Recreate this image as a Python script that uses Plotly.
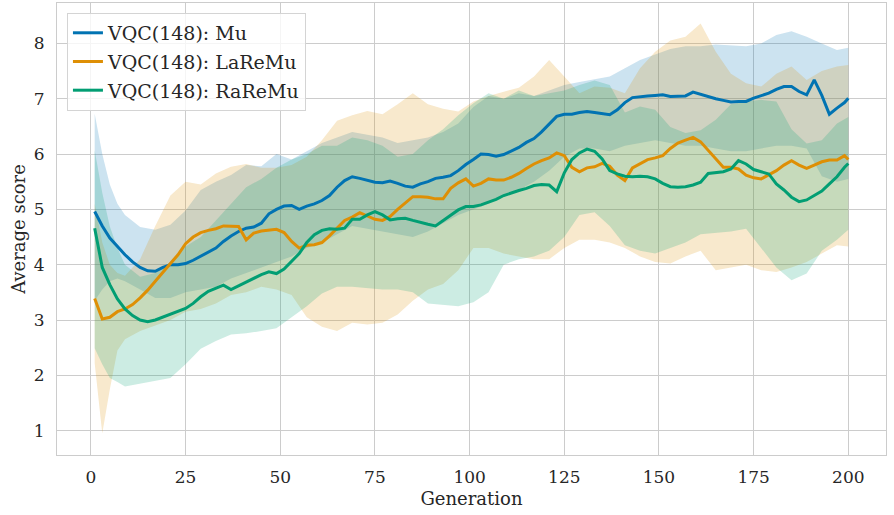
import plotly.graph_objects as go

# Generations at which the mean curves are sampled
gen = [1] + list(range(3, 200, 2)) + [200]

mu_mean = [4.96, 4.70, 4.48, 4.33, 4.18, 4.05, 3.95, 3.89, 3.88, 3.95,
           4.00, 4.00, 4.02, 4.08, 4.15, 4.22, 4.30, 4.42, 4.52, 4.60,
           4.66, 4.68, 4.75, 4.92, 5.00, 5.06, 5.07, 5.00, 5.06, 5.10,
           5.16, 5.25, 5.40, 5.52, 5.59, 5.56, 5.53, 5.49, 5.48, 5.51,
           5.47, 5.42, 5.40, 5.46, 5.50, 5.56, 5.58, 5.61, 5.70, 5.81,
           5.90, 6.00, 5.99, 5.96, 5.99, 6.05, 6.12, 6.21, 6.28, 6.40,
           6.54, 6.68, 6.72, 6.72, 6.75, 6.77, 6.75, 6.73, 6.71, 6.80,
           6.93, 7.02, 7.04, 7.05, 7.06, 7.07, 7.04, 7.04, 7.05, 7.12,
           7.08, 7.03, 7.00, 6.97, 6.94, 6.95, 6.95, 7.01, 7.05, 7.10,
           7.17, 7.22, 7.22, 7.13, 7.07, 7.34, 7.06, 6.72, 6.83, 6.93,
           7.01]

lareme_mean = [3.39, 3.02, 3.05, 3.15, 3.20, 3.28, 3.40, 3.54, 3.70, 3.87,
               4.02, 4.18, 4.38, 4.50, 4.58, 4.62, 4.65, 4.70, 4.70, 4.69,
               4.45, 4.57, 4.61, 4.63, 4.64, 4.58, 4.42, 4.30, 4.35, 4.36,
               4.40, 4.52, 4.66, 4.80, 4.86, 4.94, 4.88, 4.82, 4.80, 4.87,
               5.00, 5.12, 5.23, 5.23, 5.22, 5.19, 5.19, 5.38, 5.48, 5.55,
               5.42, 5.47, 5.55, 5.53, 5.53, 5.58, 5.65, 5.74, 5.82, 5.88,
               5.93, 6.02, 5.97, 5.76, 5.68, 5.75, 5.77, 5.83, 5.78, 5.62,
               5.52, 5.75, 5.82, 5.90, 5.93, 5.97, 6.10, 6.20, 6.25, 6.30,
               6.22, 6.06, 5.90, 5.76, 5.76, 5.73, 5.62, 5.57, 5.55, 5.62,
               5.70, 5.80, 5.88, 5.80, 5.74, 5.80, 5.86, 5.89, 5.89, 5.97,
               5.90]

rareme_mean = [4.66, 3.95, 3.64, 3.38, 3.20, 3.08, 3.00, 2.97, 3.00, 3.05,
               3.10, 3.15, 3.21, 3.30, 3.42, 3.52, 3.58, 3.63, 3.55, 3.62,
               3.68, 3.76, 3.82, 3.87, 3.84, 3.92, 4.06, 4.20, 4.40, 4.54,
               4.62, 4.65, 4.64, 4.66, 4.82, 4.82, 4.90, 4.96, 4.90, 4.81,
               4.83, 4.84, 4.80, 4.76, 4.73, 4.70, 4.80, 4.90, 4.99, 5.05,
               5.05, 5.08, 5.13, 5.18, 5.25, 5.30, 5.34, 5.38, 5.43, 5.45,
               5.44, 5.32, 5.66, 5.90, 6.02, 6.09, 6.05, 5.91, 5.70, 5.64,
               5.60, 5.59, 5.60, 5.59, 5.55, 5.47, 5.41, 5.40, 5.41, 5.44,
               5.49, 5.65, 5.66, 5.68, 5.73, 5.88, 5.82, 5.72, 5.68, 5.64,
               5.46, 5.35, 5.22, 5.14, 5.17, 5.25, 5.33, 5.46, 5.59, 5.76,
               5.83]

# Generations at which the confidence bands are sampled
band_gen = [1, 3, 5, 7] + list(range(9, 198, 4)) + [200]

mu_upper = [6.73, 6.00, 5.45, 5.10, 4.90, 4.68, 4.63, 4.72, 4.98, 5.35,
            5.50, 5.62, 5.80, 5.78, 6.00, 5.90, 6.05, 6.20, 6.30, 6.40,
            6.35, 6.30, 6.20, 6.25, 6.30, 6.40, 6.55, 6.85, 7.05, 7.00,
            7.10, 7.05, 7.15, 7.25, 7.30, 7.35, 7.40, 7.55, 7.70, 7.80,
            7.90, 7.95, 7.95, 7.98, 7.97, 7.95, 8.00, 8.15, 8.22, 8.12,
            8.00, 7.88, 7.92]
mu_lower = [3.35, 3.55, 3.70, 3.75, 3.70, 3.55, 3.40, 3.40, 3.50, 3.55,
            3.60, 3.75, 3.85, 3.95, 4.05, 4.15, 4.30, 4.40, 4.55, 4.70,
            4.65, 4.60, 4.55, 4.50, 4.60, 4.75, 4.90, 5.00, 5.10, 5.25,
            5.35, 5.50, 5.70, 5.95, 6.10, 6.10, 6.05, 6.15, 6.20, 6.25,
            6.20, 6.15, 6.15, 6.10, 6.05, 6.05, 6.10, 6.15, 6.15, 6.10,
            5.60, 5.50, 5.55]

lareme_upper = [5.10, 4.40, 4.00, 3.85, 3.80, 4.10, 4.70, 5.25, 5.50, 5.45,
                5.65, 5.77, 5.82, 5.75, 5.75, 5.80, 5.95, 6.25, 6.60, 6.70,
                6.78, 6.72, 6.90, 7.10, 6.90, 6.82, 6.77, 6.95, 7.05, 7.12,
                7.20, 7.40, 7.70, 7.40, 7.10, 7.22, 7.20, 7.10, 7.55, 7.85,
                8.05, 8.12, 8.36, 7.85, 7.45, 7.28, 7.22, 7.45, 7.58, 7.34,
                7.50, 7.58, 7.61]
lareme_lower = [2.22, 0.95, 1.75, 2.45, 2.65, 2.80, 2.90, 3.00, 3.15, 3.20,
                3.30, 3.45, 3.50, 3.60, 3.55, 3.45, 3.05, 2.88, 2.80, 2.95,
                2.92, 2.95, 3.10, 3.35, 3.55, 3.65, 3.90, 4.30, 4.30, 4.20,
                4.15, 4.10, 4.10, 4.30, 4.45, 4.45, 4.40, 4.30, 4.15, 4.05,
                4.02, 4.15, 4.25, 3.90, 3.95, 4.00, 3.90, 3.87, 3.95, 4.05,
                4.20, 4.35, 4.33]

rareme_upper = [6.07, 5.30, 4.69, 4.30, 4.00, 3.78, 3.85, 4.05, 4.33, 4.50,
                4.80, 5.10, 5.40, 5.55, 5.75, 5.90, 6.00, 6.15, 6.15, 6.30,
                6.25, 6.15, 5.95, 6.00, 6.25, 6.45, 6.70, 6.92, 7.10, 7.00,
                7.15, 7.05, 7.10, 7.15, 7.25, 7.33, 7.25, 6.75, 6.86, 6.80,
                6.49, 6.38, 6.43, 6.62, 6.90, 6.95, 6.98, 6.95, 6.45, 6.19,
                6.25, 6.55, 6.67]
rareme_lower = [2.49, 2.20, 1.95, 1.88, 1.80, 1.86, 1.90, 1.95, 2.20, 2.48,
                2.62, 2.74, 2.76, 2.80, 2.85, 3.05, 3.25, 3.48, 3.60, 3.60,
                3.58, 3.55, 3.55, 3.50, 3.30, 3.28, 3.25, 3.32, 3.50, 4.00,
                4.10, 4.15, 4.25, 4.50, 4.90, 4.95, 4.70, 4.35, 4.25, 4.20,
                4.30, 4.40, 4.55, 4.57, 4.60, 4.65, 4.30, 3.95, 3.72, 3.84,
                4.25, 4.45, 4.63]

series = [
    ("VQC(148): Mu", mu_mean, mu_lower, mu_upper, "#0173b2", "1,115,178"),
    ("VQC(148): LaReMu", lareme_mean, lareme_lower, lareme_upper, "#de8f05", "222,143,5"),
    ("VQC(148): RaReMu", rareme_mean, rareme_lower, rareme_upper, "#029e73", "2,158,115"),
]

FONT = "DejaVu Serif"
TXT = "#262626"
GRID = "#cccccc"

fig = go.Figure()

# shaded confidence bands
for name, mean, lo, hi, col, rgb in series:
    fig.add_trace(go.Scatter(
        x=band_gen + band_gen[::-1],
        y=hi + lo[::-1],
        fill="toself",
        fillcolor=f"rgba({rgb},0.2)",
        line=dict(width=0),
        mode="lines",
        hoverinfo="skip",
        showlegend=False,
    ))

# mean curves
for i, (name, mean, lo, hi, col, rgb) in enumerate(series):
    fig.add_trace(go.Scatter(
        x=gen, y=mean, mode="lines", name=name,
        legendgroup=f"g{i}",
        line=dict(color=col, width=3),
    ))

fig.update_layout(
    width=894, height=515,
    margin=dict(l=57, r=8, t=3, b=60),
    paper_bgcolor="white",
    plot_bgcolor="white",
    font=dict(family=FONT, size=17, color=TXT),
    legend=dict(
        x=0.012, y=0.978, xanchor="left", yanchor="top",
        bgcolor="rgba(255,255,255,0.8)",
        bordercolor="#d4d4d4", borderwidth=1,
        font=dict(family=FONT, size=19, color=TXT),
        tracegroupgap=1,
    ),
    xaxis=dict(
        range=[-8.95, 209.95],
        tickvals=list(range(0, 201, 25)),
        showgrid=True, gridcolor=GRID, gridwidth=1,
        zeroline=False,
        showline=True, mirror=True, linecolor=GRID, linewidth=1.25,
        ticks="", ticklabelstandoff=6,
        tickfont=dict(family=FONT, size=17),
        title=dict(text="Generation", font=dict(family=FONT, size=18), standoff=6),
        automargin=False,
    ),
    yaxis=dict(
        range=[0.56, 8.73],
        tickvals=list(range(1, 9)),
        showgrid=True, gridcolor=GRID, gridwidth=1,
        zeroline=False,
        showline=True, mirror=True, linecolor=GRID, linewidth=1.25,
        ticks="", ticklabelstandoff=8,
        tickfont=dict(family=FONT, size=17),
        title=dict(text="Average score", font=dict(family=FONT, size=18), standoff=3),
        automargin=False,
    ),
)

fig.write_html("out.html")
